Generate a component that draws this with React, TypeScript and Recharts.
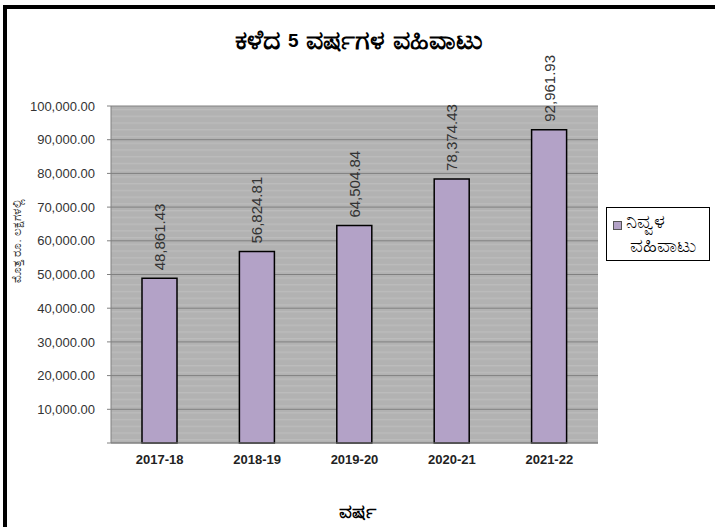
import React from 'react';
import { BarChart, Bar, XAxis, YAxis, CartesianGrid, LabelList } from 'recharts';

const years = ['2017-18', '2018-19', '2019-20', '2020-21', '2021-22'];
const turnover = [48861.43, 56824.81, 64504.84, 78374.43, 92961.93];
const yTicks = [0, 10000, 20000, 30000, 40000, 50000, 60000, 70000, 80000, 90000, 100000];
const titlePart1 = 'ಕಳೆದ ';
const titleNumber = '5';
const titlePart2 = ' ವರ್ಷಗಳ ವಹಿವಾಟು';
const yLabelText = 'ಮೊತ್ತ ರೂ. ಲಕ್ಷಗಳಲ್ಲಿ';
const xLabelText = 'ವರ್ಷ';
const legendLine1 = 'ನಿವ್ವಳ';
const legendLine2 = 'ವಹಿವಾಟು';

const data = years.map((y, i) => ({ year: y, value: turnover[i] }));

const FONT = "Arial, 'Liberation Sans', 'Noto Sans', sans-serif";
const fmt = (v: number) =>
  v.toLocaleString('en-US', { minimumFractionDigits: 2, maximumFractionDigits: 2 });

const BarLabel = (props: any) => {
  const { x, y, width, value } = props;
  const cx = Number(x) + Number(width) / 2;
  const ty = Number(y) - 8;
  return (
    <text
      x={cx}
      y={ty}
      transform={`rotate(-90, ${cx}, ${ty})`}
      textAnchor="start"
      dominantBaseline="central"
      fontSize={15}
      fontFamily={FONT}
      fill="#333"
    >
      {fmt(Number(value))}
    </text>
  );
};

const LegendBox = () => (
  <div
    style={{
      position: 'absolute',
      left: 606,
      top: 207,
      border: '1.5px solid #000',
      background: '#fff',
      width: 104,
      height: 54,
      boxSizing: 'border-box',
      fontFamily: FONT,
      fontSize: 20,
      color: '#000',
    }}
  >
    <div
      style={{
        position: 'absolute',
        left: 6,
        top: 13,
        width: 7,
        height: 7,
        background: '#b3a2c7',
        border: '1px solid #555',
      }}
    />
    <div style={{ position: 'absolute', left: 19, top: 2, lineHeight: '22px', whiteSpace: 'nowrap' }}>{legendLine1}</div>
    <div style={{ position: 'absolute', left: 23, top: 26, lineHeight: '22px', whiteSpace: 'nowrap' }}>{legendLine2}</div>
  </div>
);

export default function App() {
  return (
    <div style={{ position: 'absolute', left: 0, top: 0, width: 715, height: 527, background: '#fff', overflow: 'hidden' }}>
      <svg width={0} height={0} style={{ position: 'absolute' }}>
        <defs>
          <pattern id="stripes" patternUnits="userSpaceOnUse" x={0} y={106} width={10} height={6.74}>
            <rect x={0} y={0} width={10} height={6.74} fill="#b2b2b2" />
            <rect x={0} y={3} width={10} height={1.2} fill="#bdbdbd" />
          </pattern>
        </defs>
      </svg>
      <div
        style={{
          position: 'absolute',
          left: 3,
          top: 5,
          width: 740,
          height: 560,
          border: '4px solid #000',
          boxSizing: 'border-box',
        }}
      />
      <BarChart
        width={715}
        height={527}
        data={data}
        margin={{ top: 106, right: 117, bottom: 54, left: 11 }}
        style={{ position: 'absolute', left: 0, top: 0 }}
      >
        <CartesianGrid vertical={false} stroke="#808080" fill="url(#stripes)" fillOpacity={1} />
        <XAxis
          dataKey="year"
          height={30}
          axisLine={{ stroke: '#808080' }}
          tickLine={false}
          tick={{ fontSize: 13, fontWeight: 'bold', fill: '#222', fontFamily: FONT }}
          tickMargin={6}
          interval={0}
        />
        <YAxis
          width={100}
          domain={[0, 100000]}
          ticks={yTicks}
          interval={0}
          axisLine={{ stroke: '#808080' }}
          tickLine={{ stroke: '#808080' }}
          tickSize={4}
          tickMargin={12}
          tickFormatter={(v: number) => (v === 0 ? '' : fmt(v))}
          tick={{ fontSize: 13, fill: '#333', fontFamily: FONT }}
        />
        <Bar
          dataKey="value"
          name={`${legendLine1} ${legendLine2}`}
          fill="#b3a2c7"
          stroke="#000"
          strokeWidth={1.5}
          barSize={35}
          isAnimationActive={false}
        >
          <LabelList dataKey="value" content={<BarLabel />} />
        </Bar>
        <text x={359} y={40} textAnchor="middle" dominantBaseline="central" fontWeight="bold" fontFamily={FONT} fill="#000">
          <tspan fontSize={27}>{titlePart1}</tspan>
          <tspan fontSize={19}>{titleNumber}</tspan>
          <tspan fontSize={27}>{titlePart2}</tspan>
        </text>
        <text x={357} y={511} textAnchor="middle" dominantBaseline="central" fontSize={20} fontWeight="bold" fontFamily={FONT} fill="#000">
          {xLabelText}
        </text>
        <text
          x={17}
          y={241}
          transform="rotate(-90, 17, 241)"
          textAnchor="middle"
          dominantBaseline="central"
          fontSize={11.5}
          fontFamily={FONT}
          fill="#333"
        >
          {yLabelText}
        </text>
      </BarChart>
      <LegendBox />
    </div>
  );
}
